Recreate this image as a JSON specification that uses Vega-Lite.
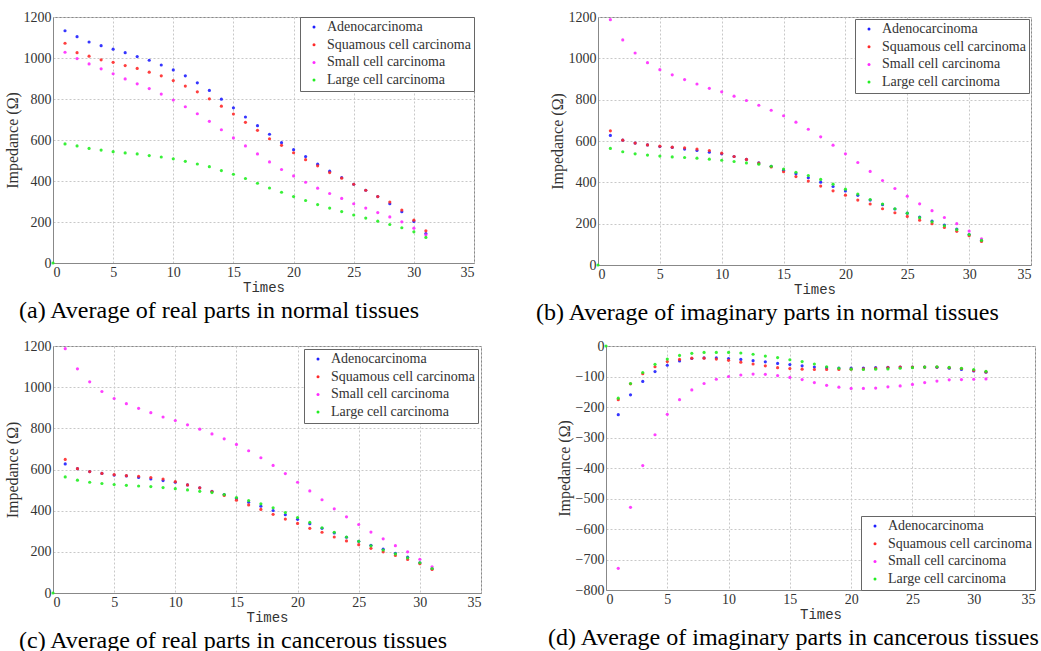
{
"$schema": "https://vega.github.io/schema/vega-lite/v6.json",
"background": "white",
"padding": {"left": 3, "top": 9, "right": 0, "bottom": 0},
"config": {
  "view": {"stroke": "#888", "strokeWidth": 1},
  "style": {"guide-label": {"font": "Liberation Serif", "fontSize": 14, "fill": "#333"}},
  "axis": {"labelFont": "Liberation Serif", "labelFontSize": 14, "labelColor": "#333", "domainColor": "#888", "tickColor": "#888", "tickSize": 0, "labelPadding": 2, "gridColor": "#c8c8c8", "gridDash": [2, 2], "titleColor": "#333", "titleFontWeight": "normal", "format": "d"},
  "axisX": {"labelFont": "Liberation Serif", "labelFontSize": 14, "titleFont": "Liberation Mono", "titleFontSize": 14, "titlePadding": 1},
  "axisY": {"labelFont": "Liberation Serif", "labelFontSize": 14, "titleFont": "Liberation Serif", "titleFontSize": 16, "titlePadding": 3},
  "legend": {"labelFont": "Liberation Serif", "labelFontSize": 14, "labelColor": "#333", "symbolSize": 9, "symbolType": "circle", "strokeColor": "#666", "fillColor": "white", "padding": 3, "offset": 0, "rowPadding": 3.7, "labelLimit": 300, "symbolOffset": 4, "labelOffset": 6, "title": null},
  "title": {"font": "Liberation Serif", "fontSize": 24, "fontWeight": "normal", "color": "black", "orient": "bottom", "anchor": "start", "offset": 5},
  "point": {"filled": true, "size": 10, "opacity": 0.9}
},
"datasets": {
"a": [
{"t":0,"c":"Large cell carcinoma","z":0},
{"t":1,"c":"Adenocarcinoma","z":1133},{"t":2,"c":"Adenocarcinoma","z":1104},{"t":3,"c":"Adenocarcinoma","z":1078},{"t":4,"c":"Adenocarcinoma","z":1060},{"t":5,"c":"Adenocarcinoma","z":1043},{"t":6,"c":"Adenocarcinoma","z":1026},{"t":7,"c":"Adenocarcinoma","z":1007},{"t":8,"c":"Adenocarcinoma","z":989},{"t":9,"c":"Adenocarcinoma","z":966},{"t":10,"c":"Adenocarcinoma","z":942},{"t":11,"c":"Adenocarcinoma","z":913},{"t":12,"c":"Adenocarcinoma","z":879},{"t":13,"c":"Adenocarcinoma","z":842},{"t":14,"c":"Adenocarcinoma","z":799},{"t":15,"c":"Adenocarcinoma","z":757},{"t":16,"c":"Adenocarcinoma","z":712},{"t":17,"c":"Adenocarcinoma","z":670},{"t":18,"c":"Adenocarcinoma","z":628},{"t":19,"c":"Adenocarcinoma","z":587},{"t":20,"c":"Adenocarcinoma","z":553},{"t":21,"c":"Adenocarcinoma","z":519},{"t":22,"c":"Adenocarcinoma","z":482},{"t":23,"c":"Adenocarcinoma","z":448},{"t":24,"c":"Adenocarcinoma","z":417},{"t":25,"c":"Adenocarcinoma","z":384},{"t":26,"c":"Adenocarcinoma","z":355},{"t":27,"c":"Adenocarcinoma","z":324},{"t":28,"c":"Adenocarcinoma","z":289},{"t":29,"c":"Adenocarcinoma","z":250},{"t":30,"c":"Adenocarcinoma","z":203},{"t":31,"c":"Adenocarcinoma","z":144},
{"t":1,"c":"Squamous cell carcinoma","z":1072},{"t":2,"c":"Squamous cell carcinoma","z":1026},{"t":3,"c":"Squamous cell carcinoma","z":1009},{"t":4,"c":"Squamous cell carcinoma","z":991},{"t":5,"c":"Squamous cell carcinoma","z":979},{"t":6,"c":"Squamous cell carcinoma","z":963},{"t":7,"c":"Squamous cell carcinoma","z":949},{"t":8,"c":"Squamous cell carcinoma","z":931},{"t":9,"c":"Squamous cell carcinoma","z":913},{"t":10,"c":"Squamous cell carcinoma","z":890},{"t":11,"c":"Squamous cell carcinoma","z":863},{"t":12,"c":"Squamous cell carcinoma","z":835},{"t":13,"c":"Squamous cell carcinoma","z":801},{"t":14,"c":"Squamous cell carcinoma","z":765},{"t":15,"c":"Squamous cell carcinoma","z":727},{"t":16,"c":"Squamous cell carcinoma","z":686},{"t":17,"c":"Squamous cell carcinoma","z":647},{"t":18,"c":"Squamous cell carcinoma","z":606},{"t":19,"c":"Squamous cell carcinoma","z":574},{"t":20,"c":"Squamous cell carcinoma","z":538},{"t":21,"c":"Squamous cell carcinoma","z":504},{"t":22,"c":"Squamous cell carcinoma","z":474},{"t":23,"c":"Squamous cell carcinoma","z":441},{"t":24,"c":"Squamous cell carcinoma","z":414},{"t":25,"c":"Squamous cell carcinoma","z":384},{"t":26,"c":"Squamous cell carcinoma","z":355},{"t":27,"c":"Squamous cell carcinoma","z":324},{"t":28,"c":"Squamous cell carcinoma","z":297},{"t":29,"c":"Squamous cell carcinoma","z":258},{"t":30,"c":"Squamous cell carcinoma","z":209},{"t":31,"c":"Squamous cell carcinoma","z":157},
{"t":1,"c":"Small cell carcinoma","z":1028},{"t":2,"c":"Small cell carcinoma","z":997},{"t":3,"c":"Small cell carcinoma","z":971},{"t":4,"c":"Small cell carcinoma","z":947},{"t":5,"c":"Small cell carcinoma","z":923},{"t":6,"c":"Small cell carcinoma","z":898},{"t":7,"c":"Small cell carcinoma","z":874},{"t":8,"c":"Small cell carcinoma","z":851},{"t":9,"c":"Small cell carcinoma","z":824},{"t":10,"c":"Small cell carcinoma","z":795},{"t":11,"c":"Small cell carcinoma","z":762},{"t":12,"c":"Small cell carcinoma","z":728},{"t":13,"c":"Small cell carcinoma","z":691},{"t":14,"c":"Small cell carcinoma","z":650},{"t":15,"c":"Small cell carcinoma","z":610},{"t":16,"c":"Small cell carcinoma","z":571},{"t":17,"c":"Small cell carcinoma","z":532},{"t":18,"c":"Small cell carcinoma","z":493},{"t":19,"c":"Small cell carcinoma","z":456},{"t":20,"c":"Small cell carcinoma","z":425},{"t":21,"c":"Small cell carcinoma","z":394},{"t":22,"c":"Small cell carcinoma","z":365},{"t":23,"c":"Small cell carcinoma","z":339},{"t":24,"c":"Small cell carcinoma","z":315},{"t":25,"c":"Small cell carcinoma","z":289},{"t":26,"c":"Small cell carcinoma","z":268},{"t":27,"c":"Small cell carcinoma","z":246},{"t":28,"c":"Small cell carcinoma","z":225},{"t":29,"c":"Small cell carcinoma","z":201},{"t":30,"c":"Small cell carcinoma","z":170},{"t":31,"c":"Small cell carcinoma","z":138},
{"t":1,"c":"Large cell carcinoma","z":581},{"t":2,"c":"Large cell carcinoma","z":571},{"t":3,"c":"Large cell carcinoma","z":559},{"t":4,"c":"Large cell carcinoma","z":551},{"t":5,"c":"Large cell carcinoma","z":543},{"t":6,"c":"Large cell carcinoma","z":537},{"t":7,"c":"Large cell carcinoma","z":532},{"t":8,"c":"Large cell carcinoma","z":524},{"t":9,"c":"Large cell carcinoma","z":517},{"t":10,"c":"Large cell carcinoma","z":508},{"t":11,"c":"Large cell carcinoma","z":496},{"t":12,"c":"Large cell carcinoma","z":483},{"t":13,"c":"Large cell carcinoma","z":470},{"t":14,"c":"Large cell carcinoma","z":451},{"t":15,"c":"Large cell carcinoma","z":433},{"t":16,"c":"Large cell carcinoma","z":412},{"t":17,"c":"Large cell carcinoma","z":389},{"t":18,"c":"Large cell carcinoma","z":366},{"t":19,"c":"Large cell carcinoma","z":345},{"t":20,"c":"Large cell carcinoma","z":324},{"t":21,"c":"Large cell carcinoma","z":305},{"t":22,"c":"Large cell carcinoma","z":285},{"t":23,"c":"Large cell carcinoma","z":268},{"t":24,"c":"Large cell carcinoma","z":251},{"t":25,"c":"Large cell carcinoma","z":234},{"t":26,"c":"Large cell carcinoma","z":219},{"t":27,"c":"Large cell carcinoma","z":204},{"t":28,"c":"Large cell carcinoma","z":188},{"t":29,"c":"Large cell carcinoma","z":172},{"t":30,"c":"Large cell carcinoma","z":152},{"t":31,"c":"Large cell carcinoma","z":125}
],
"b": [
{"t":0,"c":"Large cell carcinoma","z":0},
{"t":1,"c":"Adenocarcinoma","z":627},{"t":2,"c":"Adenocarcinoma","z":604},{"t":3,"c":"Adenocarcinoma","z":590},{"t":4,"c":"Adenocarcinoma","z":581},{"t":5,"c":"Adenocarcinoma","z":573},{"t":6,"c":"Adenocarcinoma","z":569},{"t":7,"c":"Adenocarcinoma","z":561},{"t":8,"c":"Adenocarcinoma","z":554},{"t":9,"c":"Adenocarcinoma","z":546},{"t":10,"c":"Adenocarcinoma","z":538},{"t":11,"c":"Adenocarcinoma","z":525},{"t":12,"c":"Adenocarcinoma","z":511},{"t":13,"c":"Adenocarcinoma","z":494},{"t":14,"c":"Adenocarcinoma","z":478},{"t":15,"c":"Adenocarcinoma","z":459},{"t":16,"c":"Adenocarcinoma","z":441},{"t":17,"c":"Adenocarcinoma","z":422},{"t":18,"c":"Adenocarcinoma","z":401},{"t":19,"c":"Adenocarcinoma","z":380},{"t":20,"c":"Adenocarcinoma","z":358},{"t":21,"c":"Adenocarcinoma","z":337},{"t":22,"c":"Adenocarcinoma","z":314},{"t":23,"c":"Adenocarcinoma","z":292},{"t":24,"c":"Adenocarcinoma","z":271},{"t":25,"c":"Adenocarcinoma","z":251},{"t":26,"c":"Adenocarcinoma","z":232},{"t":27,"c":"Adenocarcinoma","z":213},{"t":28,"c":"Adenocarcinoma","z":193},{"t":29,"c":"Adenocarcinoma","z":174},{"t":30,"c":"Adenocarcinoma","z":147},{"t":31,"c":"Adenocarcinoma","z":118},
{"t":1,"c":"Squamous cell carcinoma","z":649},{"t":2,"c":"Squamous cell carcinoma","z":604},{"t":3,"c":"Squamous cell carcinoma","z":590},{"t":4,"c":"Squamous cell carcinoma","z":581},{"t":5,"c":"Squamous cell carcinoma","z":575},{"t":6,"c":"Squamous cell carcinoma","z":570},{"t":7,"c":"Squamous cell carcinoma","z":567},{"t":8,"c":"Squamous cell carcinoma","z":561},{"t":9,"c":"Squamous cell carcinoma","z":554},{"t":10,"c":"Squamous cell carcinoma","z":541},{"t":11,"c":"Squamous cell carcinoma","z":525},{"t":12,"c":"Squamous cell carcinoma","z":511},{"t":13,"c":"Squamous cell carcinoma","z":493},{"t":14,"c":"Squamous cell carcinoma","z":474},{"t":15,"c":"Squamous cell carcinoma","z":451},{"t":16,"c":"Squamous cell carcinoma","z":428},{"t":17,"c":"Squamous cell carcinoma","z":406},{"t":18,"c":"Squamous cell carcinoma","z":382},{"t":19,"c":"Squamous cell carcinoma","z":359},{"t":20,"c":"Squamous cell carcinoma","z":338},{"t":21,"c":"Squamous cell carcinoma","z":314},{"t":22,"c":"Squamous cell carcinoma","z":295},{"t":23,"c":"Squamous cell carcinoma","z":272},{"t":24,"c":"Squamous cell carcinoma","z":253},{"t":25,"c":"Squamous cell carcinoma","z":235},{"t":26,"c":"Squamous cell carcinoma","z":217},{"t":27,"c":"Squamous cell carcinoma","z":200},{"t":28,"c":"Squamous cell carcinoma","z":182},{"t":29,"c":"Squamous cell carcinoma","z":163},{"t":30,"c":"Squamous cell carcinoma","z":142},{"t":31,"c":"Squamous cell carcinoma","z":114},
{"t":1,"c":"Small cell carcinoma","z":1187},{"t":2,"c":"Small cell carcinoma","z":1089},{"t":3,"c":"Small cell carcinoma","z":1026},{"t":4,"c":"Small cell carcinoma","z":979},{"t":5,"c":"Small cell carcinoma","z":945},{"t":6,"c":"Small cell carcinoma","z":920},{"t":7,"c":"Small cell carcinoma","z":897},{"t":8,"c":"Small cell carcinoma","z":876},{"t":9,"c":"Small cell carcinoma","z":855},{"t":10,"c":"Small cell carcinoma","z":838},{"t":11,"c":"Small cell carcinoma","z":817},{"t":12,"c":"Small cell carcinoma","z":796},{"t":13,"c":"Small cell carcinoma","z":773},{"t":14,"c":"Small cell carcinoma","z":749},{"t":15,"c":"Small cell carcinoma","z":722},{"t":16,"c":"Small cell carcinoma","z":691},{"t":17,"c":"Small cell carcinoma","z":657},{"t":18,"c":"Small cell carcinoma","z":620},{"t":19,"c":"Small cell carcinoma","z":580},{"t":20,"c":"Small cell carcinoma","z":538},{"t":21,"c":"Small cell carcinoma","z":496},{"t":22,"c":"Small cell carcinoma","z":453},{"t":23,"c":"Small cell carcinoma","z":409},{"t":24,"c":"Small cell carcinoma","z":370},{"t":25,"c":"Small cell carcinoma","z":333},{"t":26,"c":"Small cell carcinoma","z":296},{"t":27,"c":"Small cell carcinoma","z":263},{"t":28,"c":"Small cell carcinoma","z":230},{"t":29,"c":"Small cell carcinoma","z":200},{"t":30,"c":"Small cell carcinoma","z":164},{"t":31,"c":"Small cell carcinoma","z":127},
{"t":1,"c":"Large cell carcinoma","z":564},{"t":2,"c":"Large cell carcinoma","z":548},{"t":3,"c":"Large cell carcinoma","z":538},{"t":4,"c":"Large cell carcinoma","z":532},{"t":5,"c":"Large cell carcinoma","z":527},{"t":6,"c":"Large cell carcinoma","z":523},{"t":7,"c":"Large cell carcinoma","z":520},{"t":8,"c":"Large cell carcinoma","z":517},{"t":9,"c":"Large cell carcinoma","z":512},{"t":10,"c":"Large cell carcinoma","z":507},{"t":11,"c":"Large cell carcinoma","z":501},{"t":12,"c":"Large cell carcinoma","z":494},{"t":13,"c":"Large cell carcinoma","z":488},{"t":14,"c":"Large cell carcinoma","z":478},{"t":15,"c":"Large cell carcinoma","z":464},{"t":16,"c":"Large cell carcinoma","z":449},{"t":17,"c":"Large cell carcinoma","z":433},{"t":18,"c":"Large cell carcinoma","z":414},{"t":19,"c":"Large cell carcinoma","z":391},{"t":20,"c":"Large cell carcinoma","z":367},{"t":21,"c":"Large cell carcinoma","z":343},{"t":22,"c":"Large cell carcinoma","z":317},{"t":23,"c":"Large cell carcinoma","z":295},{"t":24,"c":"Large cell carcinoma","z":272},{"t":25,"c":"Large cell carcinoma","z":251},{"t":26,"c":"Large cell carcinoma","z":229},{"t":27,"c":"Large cell carcinoma","z":209},{"t":28,"c":"Large cell carcinoma","z":190},{"t":29,"c":"Large cell carcinoma","z":171},{"t":30,"c":"Large cell carcinoma","z":147},{"t":31,"c":"Large cell carcinoma","z":119}
],
"d": [
{"t":0,"c":"Large cell carcinoma","z":0},
{"t":1,"c":"Adenocarcinoma","z":-225},{"t":2,"c":"Adenocarcinoma","z":-160},{"t":3,"c":"Adenocarcinoma","z":-116},{"t":4,"c":"Adenocarcinoma","z":-84},{"t":5,"c":"Adenocarcinoma","z":-63},{"t":6,"c":"Adenocarcinoma","z":-49},{"t":7,"c":"Adenocarcinoma","z":-41},{"t":8,"c":"Adenocarcinoma","z":-39},{"t":9,"c":"Adenocarcinoma","z":-39},{"t":10,"c":"Adenocarcinoma","z":-41},{"t":11,"c":"Adenocarcinoma","z":-44},{"t":12,"c":"Adenocarcinoma","z":-48},{"t":13,"c":"Adenocarcinoma","z":-52},{"t":14,"c":"Adenocarcinoma","z":-57},{"t":15,"c":"Adenocarcinoma","z":-61},{"t":16,"c":"Adenocarcinoma","z":-65},{"t":17,"c":"Adenocarcinoma","z":-69},{"t":18,"c":"Adenocarcinoma","z":-71},{"t":19,"c":"Adenocarcinoma","z":-72},{"t":20,"c":"Adenocarcinoma","z":-72},{"t":21,"c":"Adenocarcinoma","z":-72},{"t":22,"c":"Adenocarcinoma","z":-71},{"t":23,"c":"Adenocarcinoma","z":-70},{"t":24,"c":"Adenocarcinoma","z":-69},{"t":25,"c":"Adenocarcinoma","z":-69},{"t":26,"c":"Adenocarcinoma","z":-69},{"t":27,"c":"Adenocarcinoma","z":-70},{"t":28,"c":"Adenocarcinoma","z":-73},{"t":29,"c":"Adenocarcinoma","z":-77},{"t":30,"c":"Adenocarcinoma","z":-82},{"t":31,"c":"Adenocarcinoma","z":-86},
{"t":1,"c":"Squamous cell carcinoma","z":-176},{"t":2,"c":"Squamous cell carcinoma","z":-124},{"t":3,"c":"Squamous cell carcinoma","z":-91},{"t":4,"c":"Squamous cell carcinoma","z":-68},{"t":5,"c":"Squamous cell carcinoma","z":-51},{"t":6,"c":"Squamous cell carcinoma","z":-44},{"t":7,"c":"Squamous cell carcinoma","z":-40},{"t":8,"c":"Squamous cell carcinoma","z":-40},{"t":9,"c":"Squamous cell carcinoma","z":-43},{"t":10,"c":"Squamous cell carcinoma","z":-47},{"t":11,"c":"Squamous cell carcinoma","z":-53},{"t":12,"c":"Squamous cell carcinoma","z":-59},{"t":13,"c":"Squamous cell carcinoma","z":-65},{"t":14,"c":"Squamous cell carcinoma","z":-71},{"t":15,"c":"Squamous cell carcinoma","z":-74},{"t":16,"c":"Squamous cell carcinoma","z":-76},{"t":17,"c":"Squamous cell carcinoma","z":-77},{"t":18,"c":"Squamous cell carcinoma","z":-77},{"t":19,"c":"Squamous cell carcinoma","z":-77},{"t":20,"c":"Squamous cell carcinoma","z":-76},{"t":21,"c":"Squamous cell carcinoma","z":-75},{"t":22,"c":"Squamous cell carcinoma","z":-73},{"t":23,"c":"Squamous cell carcinoma","z":-71},{"t":24,"c":"Squamous cell carcinoma","z":-69},{"t":25,"c":"Squamous cell carcinoma","z":-69},{"t":26,"c":"Squamous cell carcinoma","z":-69},{"t":27,"c":"Squamous cell carcinoma","z":-69},{"t":28,"c":"Squamous cell carcinoma","z":-71},{"t":29,"c":"Squamous cell carcinoma","z":-74},{"t":30,"c":"Squamous cell carcinoma","z":-80},{"t":31,"c":"Squamous cell carcinoma","z":-85},
{"t":1,"c":"Small cell carcinoma","z":-729},{"t":2,"c":"Small cell carcinoma","z":-529},{"t":3,"c":"Small cell carcinoma","z":-392},{"t":4,"c":"Small cell carcinoma","z":-291},{"t":5,"c":"Small cell carcinoma","z":-224},{"t":6,"c":"Small cell carcinoma","z":-176},{"t":7,"c":"Small cell carcinoma","z":-144},{"t":8,"c":"Small cell carcinoma","z":-123},{"t":9,"c":"Small cell carcinoma","z":-109},{"t":10,"c":"Small cell carcinoma","z":-100},{"t":11,"c":"Small cell carcinoma","z":-95},{"t":12,"c":"Small cell carcinoma","z":-92},{"t":13,"c":"Small cell carcinoma","z":-93},{"t":14,"c":"Small cell carcinoma","z":-97},{"t":15,"c":"Small cell carcinoma","z":-103},{"t":16,"c":"Small cell carcinoma","z":-110},{"t":17,"c":"Small cell carcinoma","z":-120},{"t":18,"c":"Small cell carcinoma","z":-129},{"t":19,"c":"Small cell carcinoma","z":-135},{"t":20,"c":"Small cell carcinoma","z":-139},{"t":21,"c":"Small cell carcinoma","z":-139},{"t":22,"c":"Small cell carcinoma","z":-138},{"t":23,"c":"Small cell carcinoma","z":-134},{"t":24,"c":"Small cell carcinoma","z":-131},{"t":25,"c":"Small cell carcinoma","z":-126},{"t":26,"c":"Small cell carcinoma","z":-120},{"t":27,"c":"Small cell carcinoma","z":-115},{"t":28,"c":"Small cell carcinoma","z":-111},{"t":29,"c":"Small cell carcinoma","z":-110},{"t":30,"c":"Small cell carcinoma","z":-109},{"t":31,"c":"Small cell carcinoma","z":-108},
{"t":1,"c":"Large cell carcinoma","z":-171},{"t":2,"c":"Large cell carcinoma","z":-123},{"t":3,"c":"Large cell carcinoma","z":-87},{"t":4,"c":"Large cell carcinoma","z":-60},{"t":5,"c":"Large cell carcinoma","z":-43},{"t":6,"c":"Large cell carcinoma","z":-31},{"t":7,"c":"Large cell carcinoma","z":-24},{"t":8,"c":"Large cell carcinoma","z":-21},{"t":9,"c":"Large cell carcinoma","z":-21},{"t":10,"c":"Large cell carcinoma","z":-21},{"t":11,"c":"Large cell carcinoma","z":-23},{"t":12,"c":"Large cell carcinoma","z":-27},{"t":13,"c":"Large cell carcinoma","z":-33},{"t":14,"c":"Large cell carcinoma","z":-38},{"t":15,"c":"Large cell carcinoma","z":-45},{"t":16,"c":"Large cell carcinoma","z":-51},{"t":17,"c":"Large cell carcinoma","z":-59},{"t":18,"c":"Large cell carcinoma","z":-68},{"t":19,"c":"Large cell carcinoma","z":-73},{"t":20,"c":"Large cell carcinoma","z":-76},{"t":21,"c":"Large cell carcinoma","z":-77},{"t":22,"c":"Large cell carcinoma","z":-76},{"t":23,"c":"Large cell carcinoma","z":-75},{"t":24,"c":"Large cell carcinoma","z":-73},{"t":25,"c":"Large cell carcinoma","z":-71},{"t":26,"c":"Large cell carcinoma","z":-69},{"t":27,"c":"Large cell carcinoma","z":-68},{"t":28,"c":"Large cell carcinoma","z":-70},{"t":29,"c":"Large cell carcinoma","z":-73},{"t":30,"c":"Large cell carcinoma","z":-77},{"t":31,"c":"Large cell carcinoma","z":-83}
]
},
"resolve": {"scale": {"color": "independent"}, "legend": {"color": "independent"}},
"spacing": 12,
"vconcat": [
{
 "resolve": {"scale": {"color": "independent"}, "legend": {"color": "independent"}},
 "spacing": 60,
 "hconcat": [
  {
   "width": 421, "height": 246,
   "data": {"name": "a"},
   "title": {"text": "(a) Average of real parts in normal tissues", "dx": 15},
   "mark": "point",
   "encoding": {
    "x": {"field": "t", "type": "quantitative", "scale": {"domain": [0, 35], "nice": false}, "axis": {"values": [0, 5, 10, 15, 20, 25, 30, 35], "title": "Times", "labelFont": "Liberation Serif"}},
    "y": {"field": "z", "type": "quantitative", "scale": {"domain": [0, 1200], "nice": false}, "axis": {"values": [0, 200, 400, 600, 800, 1000, 1200], "title": "Impedance (Ω)", "labelFont": "Liberation Serif", "format": "d"}},
    "color": {"field": "c", "type": "nominal", "scale": {"domain": ["Adenocarcinoma", "Squamous cell carcinoma", "Small cell carcinoma", "Large cell carcinoma"], "range": ["#1f1fff", "#ff2a2a", "#ff2aff", "#22ee22"]}, "legend": {"orient": "top-right", "labelFont": "Liberation Serif"}}
   }
  },
  {
   "width": 433, "height": 248,
   "data": {"name": "b"},
   "title": {"text": "(b) Average of imaginary parts in normal tissues", "dx": -13},
   "mark": "point",
   "encoding": {
    "x": {"field": "t", "type": "quantitative", "scale": {"domain": [0, 35], "nice": false}, "axis": {"values": [0, 5, 10, 15, 20, 25, 30, 35], "title": "Times", "labelFont": "Liberation Serif"}},
    "y": {"field": "z", "type": "quantitative", "scale": {"domain": [0, 1200], "nice": false}, "axis": {"values": [0, 200, 400, 600, 800, 1000, 1200], "title": "Impedance (Ω)", "labelFont": "Liberation Serif", "format": "d"}},
    "color": {"field": "c", "type": "nominal", "scale": {"domain": ["Adenocarcinoma", "Squamous cell carcinoma", "Small cell carcinoma", "Large cell carcinoma"], "range": ["#1f1fff", "#ff2a2a", "#ff2aff", "#22ee22"]}, "legend": {"orient": "top-right", "offset": 2, "labelFont": "Liberation Serif"}}
   }
  }
 ]
},
{
 "resolve": {"scale": {"color": "independent"}, "legend": {"color": "independent"}},
 "spacing": 65,
 "hconcat": [
  {
   "width": 428, "height": 247,
   "data": {"name": "b"},
   "title": {"text": "(c) Average of real parts in cancerous tissues", "dx": 15},
   "mark": "point",
   "encoding": {
    "x": {"field": "t", "type": "quantitative", "scale": {"domain": [0, 35], "nice": false}, "axis": {"values": [0, 5, 10, 15, 20, 25, 30, 35], "title": "Times", "labelFont": "Liberation Serif"}},
    "y": {"field": "z", "type": "quantitative", "scale": {"domain": [0, 1200], "nice": false}, "axis": {"values": [0, 200, 400, 600, 800, 1000, 1200], "title": "Impedance (Ω)", "labelFont": "Liberation Serif", "format": "d"}},
    "color": {"field": "c", "type": "nominal", "scale": {"domain": ["Adenocarcinoma", "Squamous cell carcinoma", "Small cell carcinoma", "Large cell carcinoma"], "range": ["#1f1fff", "#ff2a2a", "#ff2aff", "#22ee22"]}, "legend": {"orient": "top-right", "offset": 3, "labelFont": "Liberation Serif"}}
   }
  },
  {
   "width": 429, "height": 244,
   "data": {"name": "d"},
   "title": {"text": "(d) Average of imaginary parts in cancerous tissues", "dx": -8},
   "mark": "point",
   "encoding": {
    "x": {"field": "t", "type": "quantitative", "scale": {"domain": [0, 35], "nice": false}, "axis": {"values": [0, 5, 10, 15, 20, 25, 30, 35], "title": "Times", "labelFont": "Liberation Serif"}},
    "y": {"field": "z", "type": "quantitative", "scale": {"domain": [-800, 0], "nice": false}, "axis": {"values": [-800, -700, -600, -500, -400, -300, -200, -100, 0], "title": "Impedance (Ω)", "labelFont": "Liberation Serif", "format": "d"}},
    "color": {"field": "c", "type": "nominal", "scale": {"domain": ["Adenocarcinoma", "Squamous cell carcinoma", "Small cell carcinoma", "Large cell carcinoma"], "range": ["#1f1fff", "#ff2a2a", "#ff2aff", "#22ee22"]}, "legend": {"orient": "bottom-right", "labelFont": "Liberation Serif"}}
   }
  }
 ]
}
]
}
